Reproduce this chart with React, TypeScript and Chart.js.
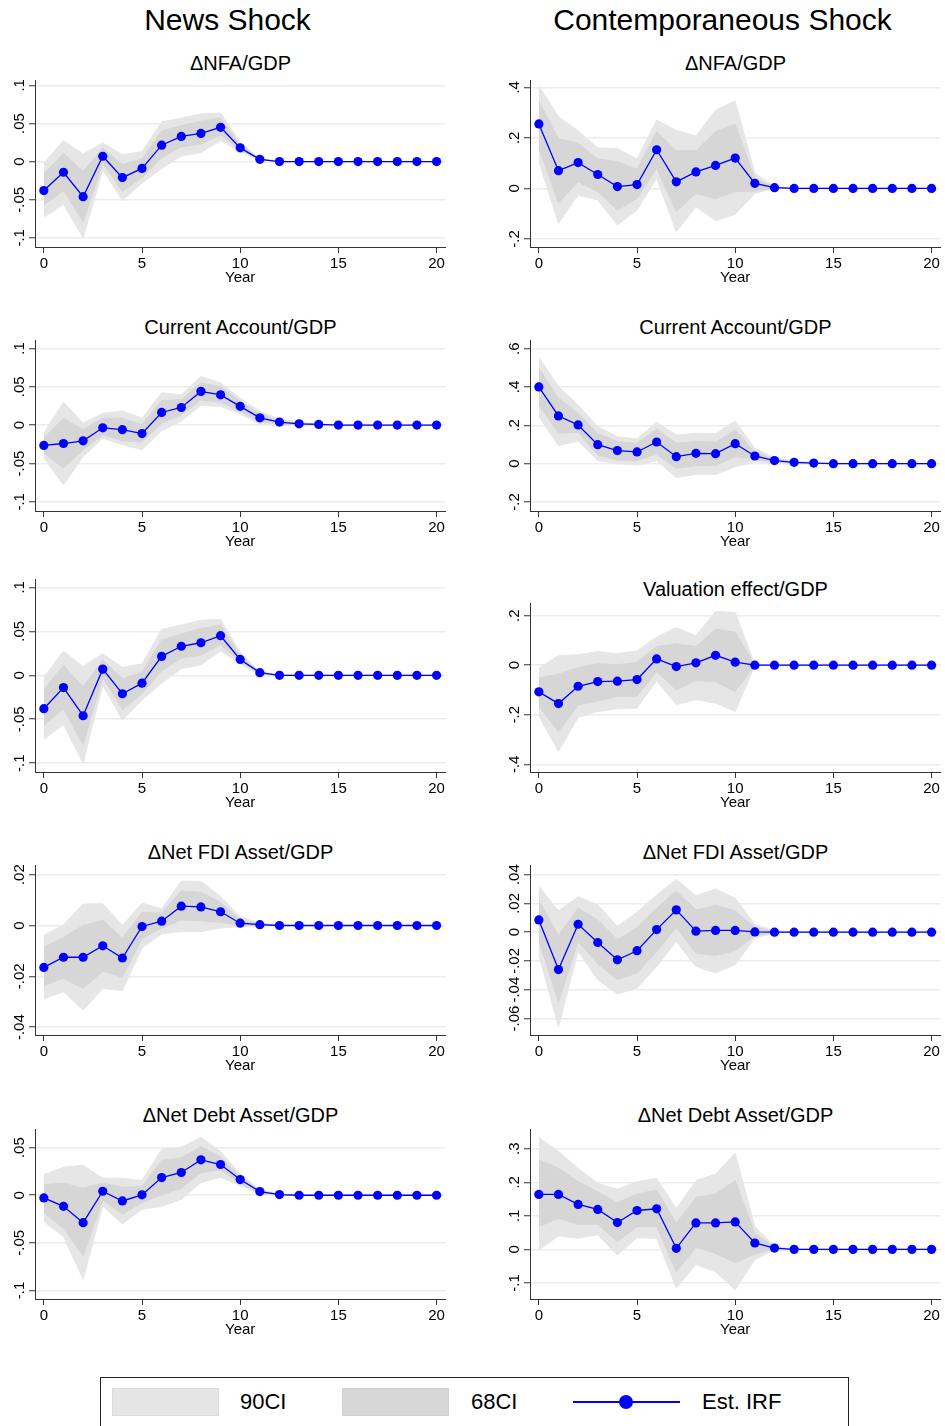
import React, { useEffect, useRef } from "react";
import { Chart, registerables } from "chart.js";

Chart.register(...registerables);

// ---------- DATA ----------
const years = [0,1,2,3,4,5,6,7,8,9,10,11,12,13,14,15,16,17,18,19,20];

const headerNews = "News Shock";
const headerContemp = "Contemporaneous Shock";

// News shock: ΔNFA/GDP (also repeated in third left panel)
const newsNfaIrf  = [-0.038,-0.014,-0.046,0.007,-0.021,-0.009,0.0215,0.033,0.037,0.045,0.018,0.003,0,0,0,0,0,0,0,0,0];
const newsNfa90Hi = [-0.002,0.0275,0.010,0.0245,0.009,0.013,0.052,0.057,0.0625,0.0638,0.026,0.004,0,0,0,0,0,0,0,0,0];
const newsNfa90Lo = [-0.073,-0.056,-0.100,-0.011,-0.051,-0.028,-0.009,0.0075,0.012,0.0275,0.013,0.001,0,0,0,0,0,0,0,0,0];
const newsNfa68Hi = [-0.016,0.011,-0.013,0.0175,-0.004,0.0035,0.040,0.047,0.053,0.057,0.022,0.0035,0,0,0,0,0,0,0,0,0];
const newsNfa68Lo = [-0.057,-0.038,-0.079,-0.002,-0.039,-0.021,0.005,0.0195,0.023,0.035,0.015,0.0025,0,0,0,0,0,0,0,0,0];

// Contemporaneous: ΔNFA/GDP
const conNfaIrf  = [0.255,0.07,0.102,0.055,0.007,0.015,0.153,0.026,0.065,0.091,0.12,0.02,0.003,0,0,0,0,0,0,0,0];
const conNfa90Hi = [0.405,0.284,0.228,0.16,0.158,0.116,0.27,0.23,0.207,0.31,0.346,0.06,0.007,0,0,0,0,0,0,0,0];
const conNfa90Lo = [0.105,-0.138,-0.026,-0.046,-0.145,-0.086,0.04,-0.172,-0.073,-0.128,-0.102,-0.02,0,0,0,0,0,0,0,0,0];
const conNfa68Hi = [0.345,0.196,0.178,0.116,0.106,0.075,0.224,0.149,0.149,0.224,0.255,0.04,0.005,0,0,0,0,0,0,0,0];
const conNfa68Lo = [0.16,-0.057,0.026,-0.013,-0.086,-0.04,0.08,-0.092,-0.02,-0.04,-0.013,-0.01,0.001,0,0,0,0,0,0,0,0];

// News: Current Account/GDP
const newsCaIrf  = [-0.0265,-0.024,-0.0205,-0.0035,-0.006,-0.011,0.0165,0.023,0.044,0.0395,0.0245,0.0095,0.004,0.0017,0.0009,0,0,0,0,0,0];
const newsCa90Hi = [-0.0105,0.030,0.0025,0.0155,0.0185,0.009,0.042,0.0395,0.0635,0.055,0.035,0.018,0.008,0.004,0.0012,0,0,0,0,0,0];
const newsCa90Lo = [-0.043,-0.078,-0.041,-0.017,-0.0255,-0.032,-0.0075,0.0055,0.0255,0.0245,0.0145,0.0013,-0.0004,0,0,0,0,0,0,0,0];
const newsCa68Hi = [-0.017,0.009,-0.006,0.009,0.009,0.0004,0.032,0.033,0.055,0.050,0.031,0.0143,0.0057,0.0026,0.001,0,0,0,0,0,0];
const newsCa68Lo = [-0.0365,-0.056,-0.032,-0.0125,-0.0205,-0.022,0.0025,0.0135,0.033,0.030,0.018,0.0048,0.0013,0.0005,0,0,0,0,0,0,0];

// Contemporaneous: Current Account/GDP
const conCaIrf  = [0.4,0.249,0.202,0.099,0.068,0.061,0.113,0.0365,0.054,0.052,0.104,0.04,0.016,0.007,0.003,0,0,0,0,0,0];
const conCa90Hi = [0.555,0.402,0.306,0.193,0.141,0.129,0.216,0.15,0.158,0.157,0.223,0.08,0.031,0.014,0.004,0,0,0,0,0,0];
const conCa90Lo = [0.245,0.094,0.118,0.016,0,-0.007,0.016,-0.073,-0.056,-0.056,-0.016,0.01,0,0,0,0,0,0,0,0,0];
const conCa68Hi = [0.497,0.341,0.263,0.158,0.115,0.106,0.181,0.106,0.115,0.111,0.176,0.059,0.024,0.01,0.003,0,0,0,0,0,0];
const conCa68Lo = [0.306,0.158,0.163,0.045,0.019,0.016,0.049,-0.024,-0.01,-0.01,0.0365,0.024,0.009,0.003,0.001,0,0,0,0,0,0];

// Contemporaneous: Valuation effect/GDP
const conValIrf  = [-0.1075,-0.155,-0.085,-0.066,-0.0645,-0.058,0.0255,-0.0055,0.0095,0.040,0.012,0,0,0,0,0,0,0,0,0,0];
const conVal90Hi = [-0.012,0.039,0.0415,0.055,0.046,0.058,0.114,0.152,0.119,0.217,0.213,0.004,0,0,0,0,0,0,0,0,0];
const conVal90Lo = [-0.204,-0.348,-0.211,-0.187,-0.176,-0.173,-0.063,-0.159,-0.139,-0.153,-0.187,-0.002,0,0,0,0,0,0,0,0,0];
const conVal68Hi = [-0.052,-0.036,-0.009,0.0055,0.0013,0.012,0.075,0.086,0.075,0.145,0.133,0.002,0,0,0,0,0,0,0,0,0];
const conVal68Lo = [-0.167,-0.268,-0.16,-0.144,-0.126,-0.124,-0.026,-0.1,-0.063,-0.066,-0.106,-0.001,0,0,0,0,0,0,0,0,0];

// News: ΔNet FDI Asset/GDP
const newsFdiIrf  = [-0.0165,-0.0125,-0.0125,-0.008,-0.0128,-0.0004,0.0017,0.0076,0.0073,0.0054,0.0009,0.0003,0,0,0,0,0,0,0,0,0];
const newsFdi90Hi = [-0.0039,0.0003,0.0084,0.0086,0,0.0088,0.0065,0.0175,0.0173,0.0114,0.0035,0.0009,0.0002,0,0,0,0,0,0,0,0];
const newsFdi90Lo = [-0.0288,-0.0261,-0.0333,-0.0248,-0.0256,-0.0089,-0.0033,-0.0024,-0.0024,-0.001,-0.0005,-0.0001,0,0,0,0,0,0,0,0,0];
const newsFdi68Hi = [-0.0086,-0.0047,0,0.0021,-0.005,0.0052,0.0048,0.0136,0.013,0.0091,0.0022,0.0006,0.0001,0,0,0,0,0,0,0,0];
const newsFdi68Lo = [-0.0237,-0.0207,-0.0248,-0.018,-0.0204,-0.0052,-0.001,0.0022,0.0018,0.0013,0,0,0,0,0,0,0,0,0,0,0];

// Contemporaneous: ΔNet FDI Asset/GDP
const conFdiIrf  = [0.0085,-0.026,0.0055,-0.0072,-0.0192,-0.0129,0.0018,0.0155,0.0007,0.0012,0.0012,0.0002,0,0,0,0,0,0,0,0,0];
const conFdi90Hi = [0.032,0.0148,0.0247,0.019,0.004,0.0139,0.0259,0.0367,0.0254,0.030,0.0236,0.0055,0.001,0,0,0,0,0,0,0,0];
const conFdi90Lo = [-0.0157,-0.066,-0.0134,-0.033,-0.043,-0.039,-0.0238,-0.0065,-0.0238,-0.0284,-0.0226,-0.004,-0.0007,0,0,0,0,0,0,0,0];
const conFdi68Hi = [0.0224,-0.0023,0.0166,0.0085,-0.0053,0.0032,0.0166,0.0286,0.0155,0.0185,0.0148,0.0032,0.0005,0,0,0,0,0,0,0,0];
const conFdi68Lo = [-0.006,-0.0485,-0.0065,-0.022,-0.033,-0.0284,-0.0134,0.0032,-0.0145,-0.0162,-0.0129,-0.0023,-0.0003,0,0,0,0,0,0,0,0];

// News: ΔNet Debt Asset/GDP
const newsDebtIrf  = [-0.0028,-0.0116,-0.0288,0.0042,-0.006,0.0004,0.0186,0.0239,0.0372,0.0323,0.0165,0.0039,0.0007,0,0,0,0,0,0,0,0];
const newsDebt90Hi = [0.0214,0.0295,0.0316,0.0179,0.0179,0.0154,0.0484,0.0505,0.061,0.046,0.0225,0.0063,0.0012,0,0,0,0,0,0,0,0];
const newsDebt90Lo = [-0.0277,-0.0435,-0.0884,-0.0112,-0.0302,-0.0147,-0.0119,-0.0042,0.0133,0.0189,0.0098,0.0014,0.0002,0,0,0,0,0,0,0,0];
const newsDebt68Hi = [0.0109,0.0126,0.0074,0.0126,0.0084,0.0091,0.0365,0.0393,0.0512,0.040,0.0196,0.0049,0.0009,0,0,0,0,0,0,0,0];
const newsDebt68Lo = [-0.0182,-0.0347,-0.0639,-0.0049,-0.020,-0.0077,0.0004,0.0074,0.0239,0.0267,0.0126,0.0021,0.0004,0,0,0,0,0,0,0,0];

// Contemporaneous: ΔNet Debt Asset/GDP
const conDebtIrf  = [0.164,0.164,0.134,0.119,0.08,0.116,0.121,0.003,0.079,0.079,0.082,0.019,0.004,0,0,0,0,0,0,0,0];
const conDebt90Hi = [0.334,0.292,0.242,0.197,0.179,0.202,0.212,0.122,0.205,0.225,0.287,0.068,0.01,0,0,0,0,0,0,0,0];
const conDebt90Lo = [-0.002,0.04,0.033,0.044,-0.017,0.035,0.033,-0.116,-0.045,-0.067,-0.121,-0.03,-0.002,0,0,0,0,0,0,0,0];
const conDebt68Hi = [0.267,0.242,0.202,0.172,0.139,0.165,0.177,0.078,0.155,0.165,0.205,0.048,0.006,0,0,0,0,0,0,0,0];
const conDebt68Lo = [0.068,0.093,0.075,0.075,0.023,0.068,0.068,-0.067,0.006,-0.012,-0.04,-0.014,0.002,0,0,0,0,0,0,0,0];

// Axis ticks
const xTicks = [0, 5, 10, 15, 20];
const ticksPm1 = [-0.1, -0.05, 0, 0.05, 0.1];
const ticksNfaCon = [-0.2, 0, 0.2, 0.4];
const ticksCaCon = [-0.2, 0, 0.2, 0.4, 0.6];
const ticksVal = [-0.4, -0.2, 0, 0.2];
const ticksFdiNews = [-0.04, -0.02, 0, 0.02];
const ticksFdiCon = [-0.06, -0.04, -0.02, 0, 0.02, 0.04];
const ticksDebtNews = [-0.1, -0.05, 0, 0.05];
const ticksDebtCon = [-0.1, 0, 0.1, 0.2, 0.3];

const legendLabels = ["90CI", "68CI", "Est. IRF"];

// ---------- STYLE ----------
const FONT = '"Liberation Sans", Arial, sans-serif';
const C90 = "#e6e6e6";
const C68 = "#d6d6d6";
const BLUE = "#0000ff";

type Panel = {
  title: string;
  col: 0 | 1;
  plotTop: number;
  plotBottom: number;
  titleY: number;
  yMin: number;
  yMax: number;
  yTicks: number[];
  irf: number[];
  hi90: number[];
  lo90: number[];
  hi68: number[];
  lo68: number[];
};

const panels: Panel[] = [
  { title: "ΔNFA/GDP", col: 0, plotTop: 80, plotBottom: 247, titleY: 63, yMin: -0.112, yMax: 0.107, yTicks: ticksPm1,
    irf: newsNfaIrf, hi90: newsNfa90Hi, lo90: newsNfa90Lo, hi68: newsNfa68Hi, lo68: newsNfa68Lo },
  { title: "ΔNFA/GDP", col: 1, plotTop: 80, plotBottom: 247, titleY: 63, yMin: -0.232, yMax: 0.429, yTicks: ticksNfaCon,
    irf: conNfaIrf, hi90: conNfa90Hi, lo90: conNfa90Lo, hi68: conNfa68Hi, lo68: conNfa68Lo },
  { title: "Current Account/GDP", col: 0, plotTop: 340, plotBottom: 511, titleY: 327, yMin: -0.112, yMax: 0.111, yTicks: ticksPm1,
    irf: newsCaIrf, hi90: newsCa90Hi, lo90: newsCa90Lo, hi68: newsCa68Hi, lo68: newsCa68Lo },
  { title: "Current Account/GDP", col: 1, plotTop: 340, plotBottom: 511, titleY: 327, yMin: -0.247, yMax: 0.645, yTicks: ticksCaCon,
    irf: conCaIrf, hi90: conCa90Hi, lo90: conCa90Lo, hi68: conCa68Hi, lo68: conCa68Lo },
  { title: "", col: 0, plotTop: 579, plotBottom: 772, titleY: 0, yMin: -0.110, yMax: 0.1095, yTicks: ticksPm1,
    irf: newsNfaIrf, hi90: newsNfa90Hi, lo90: newsNfa90Lo, hi68: newsNfa68Hi, lo68: newsNfa68Lo },
  { title: "Valuation effect/GDP", col: 1, plotTop: 603, plotBottom: 772, titleY: 589, yMin: -0.431, yMax: 0.251, yTicks: ticksVal,
    irf: conValIrf, hi90: conVal90Hi, lo90: conVal90Lo, hi68: conVal68Hi, lo68: conVal68Lo },
  { title: "ΔNet FDI Asset/GDP", col: 0, plotTop: 865, plotBottom: 1035, titleY: 852, yMin: -0.0431, yMax: 0.0238, yTicks: ticksFdiNews,
    irf: newsFdiIrf, hi90: newsFdi90Hi, lo90: newsFdi90Lo, hi68: newsFdi68Hi, lo68: newsFdi68Lo },
  { title: "ΔNet FDI Asset/GDP", col: 1, plotTop: 865, plotBottom: 1035, titleY: 852, yMin: -0.0715, yMax: 0.0467, yTicks: ticksFdiCon,
    irf: conFdiIrf, hi90: conFdi90Hi, lo90: conFdi90Lo, hi68: conFdi68Hi, lo68: conFdi68Lo },
  { title: "ΔNet Debt Asset/GDP", col: 0, plotTop: 1129, plotBottom: 1299, titleY: 1115, yMin: -0.109, yMax: 0.0696, yTicks: ticksDebtNews,
    irf: newsDebtIrf, hi90: newsDebt90Hi, lo90: newsDebt90Lo, hi68: newsDebt68Hi, lo68: newsDebt68Lo },
  { title: "ΔNet Debt Asset/GDP", col: 1, plotTop: 1129, plotBottom: 1299, titleY: 1115, yMin: -0.148, yMax: 0.359, yTicks: ticksDebtCon,
    irf: conDebtIrf, hi90: conDebt90Hi, lo90: conDebt90Lo, hi68: conDebt68Hi, lo68: conDebt68Lo },
];

const COL_X = [0, 495];
const CANVAS_W = 450;
const PAD_TOP = 20;
const X_AXIS_H = 40;
const Y_AXIS_W = 35;

function fmt(v: number): string {
  if (Math.abs(v) < 1e-12) return "0";
  let s = String(Number(v.toFixed(4)));
  s = s.replace(/^0\./, ".").replace(/^-0\./, "-.");
  return s;
}

const yLabelPlugin = {
  id: "rotatedYLabels",
  afterDraw(chart: any) {
    const s = chart.scales.y;
    const ctx = chart.ctx;
    ctx.save();
    ctx.font = `15px ${FONT}`;
    ctx.fillStyle = "#000";
    ctx.textAlign = "center";
    ctx.textBaseline = "middle";
    for (const t of s.ticks) {
      const y = s.getPixelForValue(t.value);
      ctx.save();
      ctx.translate(s.right - 15, y);
      ctx.rotate(-Math.PI / 2);
      ctx.fillText(fmt(t.value), 0, 0);
      ctx.restore();
    }
    ctx.restore();
  },
};

function toPts(arr: number[]) {
  return years.map((x, i) => ({ x, y: arr[i] }));
}

function PanelChart({ p }: { p: Panel }) {
  const ref = useRef<HTMLCanvasElement | null>(null);
  const plotH = p.plotBottom - p.plotTop;
  const h = PAD_TOP + plotH + X_AXIS_H;
  useEffect(() => {
    if (!ref.current) return;
    const band = (color: string) => ({
      borderColor: color,
      backgroundColor: color,
      borderWidth: 1,
      pointRadius: 0,
      pointHoverRadius: 0,
    });
    const chart = new Chart(ref.current, {
      type: "line",
      data: {
        datasets: [
          {
            label: "Est. IRF",
            data: toPts(p.irf),
            borderColor: BLUE,
            backgroundColor: BLUE,
            borderWidth: 1.3,
            pointRadius: 4.6,
            pointBackgroundColor: BLUE,
            pointBorderColor: BLUE,
            pointBorderWidth: 0,
            fill: false,
          },
          { label: "68hi", data: toPts(p.hi68), ...band(C68), fill: "+1" },
          { label: "68lo", data: toPts(p.lo68), ...band(C68), fill: false },
          { label: "90hi", data: toPts(p.hi90), ...band(C90), fill: "+1" },
          { label: "90lo", data: toPts(p.lo90), ...band(C90), fill: false },
        ],
      },
      options: {
        animation: false,
        responsive: false,
        devicePixelRatio: 1,
        layout: { padding: { top: PAD_TOP, right: 4, bottom: 0, left: 0 } },
        plugins: { legend: { display: false }, tooltip: { enabled: false }, title: { display: false } },
        events: [],
        scales: {
          x: {
            type: "linear",
            min: -0.45,
            max: 20.45,
            afterBuildTicks: (s: any) => { s.ticks = xTicks.map((v) => ({ value: v })); },
            afterFit: (s: any) => { s.height = X_AXIS_H; },
            grid: { drawOnChartArea: false, drawTicks: true, tickLength: 6, tickColor: "#333", tickWidth: 1 },
            border: { display: true, color: "#333", width: 1 },
            ticks: { color: "#000", font: { family: FONT, size: 15 }, padding: 2, maxRotation: 0, autoSkip: false },
            title: { display: true, text: "Year", color: "#000", font: { family: FONT, size: 15 }, padding: { top: 0, bottom: 0 } },
          },
          y: {
            type: "linear",
            min: p.yMin,
            max: p.yMax,
            afterBuildTicks: (s: any) => { s.ticks = p.yTicks.map((v) => ({ value: v })); },
            afterFit: (s: any) => { s.width = Y_AXIS_W; },
            grid: { color: "#ececec", lineWidth: 1.5, drawTicks: true, tickLength: 6, tickColor: "#333", tickWidth: 1 },
            border: { display: true, color: "#333", width: 1 },
            ticks: { display: false },
          },
        },
      },
      plugins: [yLabelPlugin],
    } as any);
    return () => chart.destroy();
  }, []);
  return (
    <>
      {p.title && (
        <div
          style={{
            position: "absolute",
            left: COL_X[p.col] + Y_AXIS_W,
            width: CANVAS_W - Y_AXIS_W - 4,
            top: p.titleY - 12,
            height: 24,
            lineHeight: "24px",
            textAlign: "center",
            fontFamily: FONT,
            fontSize: 20,
            color: "#000",
            whiteSpace: "nowrap",
          }}
        >
          {p.title}
        </div>
      )}
      <canvas
        ref={ref}
        width={CANVAS_W}
        height={h}
        style={{ position: "absolute", left: COL_X[p.col], top: p.plotTop - PAD_TOP, width: CANVAS_W, height: h }}
      />
    </>
  );
}

export default function App() {
  const textBase: React.CSSProperties = { position: "absolute", fontFamily: FONT, color: "#000", whiteSpace: "nowrap" };
  return (
    <div style={{ position: "absolute", left: 0, top: 0, width: 945, height: 1426, overflow: "hidden", background: "#fff" }}>
      <div style={{ ...textBase, left: 0, width: 455, top: 2, height: 36, lineHeight: "36px", textAlign: "center", fontSize: 30 }}>
        {headerNews}
      </div>
      <div style={{ ...textBase, left: 495, width: 455, top: 2, height: 36, lineHeight: "36px", textAlign: "center", fontSize: 30 }}>
        {headerContemp}
      </div>
      {panels.map((p, i) => (
        <PanelChart key={i} p={p} />
      ))}
      {/* Legend */}
      <div style={{ position: "absolute", left: 100, top: 1377, width: 749, height: 60, border: "1px solid #222", boxSizing: "border-box" }} />
      <div style={{ position: "absolute", left: 112, top: 1388, width: 107, height: 28, background: "#e5e5e5", border: "1px solid #dcdcdc", boxSizing: "border-box" }} />
      <div style={{ ...textBase, left: 240, top: 1388, height: 28, lineHeight: "28px", fontSize: 22 }}>{legendLabels[0]}</div>
      <div style={{ position: "absolute", left: 342, top: 1388, width: 107, height: 28, background: "#d7d7d7", border: "1px solid #d0d0d0", boxSizing: "border-box" }} />
      <div style={{ ...textBase, left: 471, top: 1388, height: 28, lineHeight: "28px", fontSize: 22 }}>{legendLabels[1]}</div>
      <div style={{ position: "absolute", left: 573, top: 1401, width: 107, height: 2, background: BLUE }} />
      <div style={{ position: "absolute", left: 619, top: 1395, width: 14, height: 14, borderRadius: 7, background: BLUE }} />
      <div style={{ ...textBase, left: 702, top: 1388, height: 28, lineHeight: "28px", fontSize: 22 }}>{legendLabels[2]}</div>
    </div>
  );
}
